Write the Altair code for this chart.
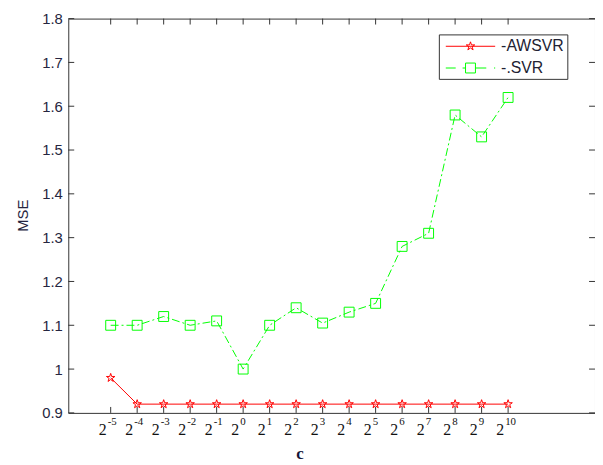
import math
import altair as alt
import pandas as pd

# ---- data ----
exponents = [-5, -4, -3, -2, -1, 0, 1, 2, 3, 4, 5, 6, 7, 8, 9, 10]
awsvr = [0.98, 0.92, 0.92, 0.92, 0.92, 0.92, 0.92, 0.92, 0.92, 0.92, 0.92, 0.92, 0.92, 0.92, 0.92, 0.92]
svr = [1.10, 1.10, 1.12, 1.10, 1.11, 1.00, 1.10, 1.14, 1.105, 1.13, 1.15, 1.28, 1.31, 1.58, 1.53, 1.62]
series_names = ["-AWSVR", "-.SVR"]
y_ticks = [0.9, 1.0, 1.1, 1.2, 1.3, 1.4, 1.5, 1.6, 1.7, 1.8]

RED = "#ff0000"
GREEN = "#00ff00"
FRAME = "#333333"

df = pd.DataFrame(
    {
        "exp": exponents * 2,
        "mse": awsvr + svr,
        "series": [series_names[0]] * len(exponents) + [series_names[1]] * len(exponents),
    }
)
df_x = pd.DataFrame({"exp": exponents, "base": ["2"] * len(exponents), "sup": [str(e) for e in exponents]})
df_y = pd.DataFrame({"v": y_ticks})


# ---- marker shapes ----
def star(scale=1.0, cx=0.0):
    pts = []
    for k in range(10):
        a = -math.pi / 2 + k * math.pi / 5
        r = scale if k % 2 == 0 else scale * 0.382
        pts.append((cx + r * math.cos(a), r * math.sin(a)))
    return "M" + "L".join(f"{x:.3f},{y:.3f}" for x, y in pts) + "Z"


STAR = star(1.0)
# legend symbols (size 289 -> 8.5 px per unit)
LEG_AW = "M-2.94,0L2.94,0" + star(0.53)
LEG_SVR = (
    "M-2.94,0L-1.76,0M-0.94,0L-0.59,0"
    "M-0.59,-0.59L0.59,-0.59L0.59,0.59L-0.59,0.59Z"
    "M0.59,0L1.88,0M2.8,0L2.94,0"
)

xscale = alt.Scale(domain=[-6.6, 13.28], nice=False, zero=False)
yscale = alt.Scale(domain=[0.9, 1.8], nice=False, zero=False)

xaxis = alt.Axis(
    labels=False, ticks=False, domain=False, grid=False,
    title="c", titleFont="Liberation Serif", titleFontSize=17, titleFontWeight="bold",
    titleColor="#15153a", titleX=234, titleY=46, titleBaseline="alphabetic", titleAlign="center",
)
yaxis = alt.Axis(
    values=y_ticks, format=".2~r", ticks=False, domain=False, grid=False,
    labelPadding=6, labelFont="Liberation Sans", labelFontSize=15, labelColor="#262640",
    title="MSE", titleFont="Liberation Sans", titleFontSize=15, titleFontWeight="normal",
    titleColor="#262640", titleX=-46, titleY=199, titleBaseline="middle", titleAlign="center",
    titleAngle=270,
)

X = alt.X("exp:Q", scale=xscale, axis=xaxis)
Y = alt.Y("mse:Q", scale=yscale, axis=yaxis)

base = alt.Chart(df)

line_aw = base.transform_filter(alt.datum.series == series_names[0]).mark_line(
    color=RED, strokeWidth=1
).encode(x=X, y=Y)
line_svr = base.transform_filter(alt.datum.series == series_names[1]).mark_line(
    color=GREEN, strokeWidth=1, strokeDash=[8, 3, 2, 3]
).encode(x=X, y=Y)
pts_aw = base.transform_filter(alt.datum.series == series_names[0]).mark_point(
    shape=STAR, size=81, filled=False, color=RED, strokeWidth=1, opacity=1
).encode(x=X, y=Y)
pts_svr = base.transform_filter(alt.datum.series == series_names[1]).mark_point(
    shape="square", size=100, filled=False, color=GREEN, strokeWidth=1, opacity=1
).encode(x=X, y=Y)

leg = dict(
    orient="none", legendX=375, legendY=16, title=None,
    padding=3, rowPadding=5, symbolOffset=20, labelOffset=22,
    symbolSize=289, symbolStrokeWidth=1,
    labelFont="Liberation Sans", labelFontSize=16, labelColor="#222233",
    strokeColor=FRAME, fillColor="white",
    labelExpr="datum.label + '\u00a0\u00a0'",
)

legend_layer = base.transform_filter("false").mark_point(filled=False, strokeWidth=1, opacity=1).encode(
    x=X,
    y=Y,
    color=alt.Color(
        "series:N",
        scale=alt.Scale(domain=series_names, range=[RED, GREEN]),
        legend=alt.Legend(**leg),
    ),
    shape=alt.Shape(
        "series:N",
        scale=alt.Scale(domain=series_names, range=[LEG_AW, LEG_SVR]),
        legend=alt.Legend(**leg),
    ),
)

XT = alt.X("exp:Q", scale=xscale, axis=xaxis)
xt_bottom = alt.Chart(df_x).mark_rule(color=FRAME, strokeWidth=1).encode(
    x=XT, y=alt.value(399), y2=alt.value(393)
)
xt_top = alt.Chart(df_x).mark_rule(color=FRAME, strokeWidth=1).encode(
    x=XT, y=alt.value(0), y2=alt.value(6)
)
YT = alt.Y("v:Q", scale=yscale, axis=yaxis)
yt_left = alt.Chart(df_y).mark_rule(color=FRAME, strokeWidth=1).encode(
    y=YT, x=alt.value(0), x2=alt.value(6)
)
yt_right = alt.Chart(df_y).mark_rule(color=FRAME, strokeWidth=1).encode(
    y=YT, x=alt.value(527), x2=alt.value(533)
)

lab_base = alt.Chart(df_x).mark_text(
    align="right", baseline="alphabetic", dx=-4, font="Liberation Serif", fontSize=16, color="#111111"
).encode(x=XT, y=alt.value(421), text="base:N")
lab_sup = alt.Chart(df_x).mark_text(
    align="left", baseline="alphabetic", dx=-3, font="Liberation Serif", fontSize=11, color="#111111"
).encode(x=XT, y=alt.value(411), text="sup:N")

chart = (
    alt.layer(
        xt_bottom, xt_top, yt_left, yt_right,
        line_aw, line_svr, pts_aw, pts_svr, legend_layer,
        lab_base, lab_sup,
    )
    .properties(
        width=533,
        height=399,
        autosize=alt.AutoSizeParams(type="none"),
        padding={"left": 61, "top": 8, "right": 0, "bottom": 50},
        background="white",
    )
    .configure_view(stroke=FRAME, strokeWidth=1)
)

chart.save("out.html", embed_options={"renderer": "svg", "actions": False})
